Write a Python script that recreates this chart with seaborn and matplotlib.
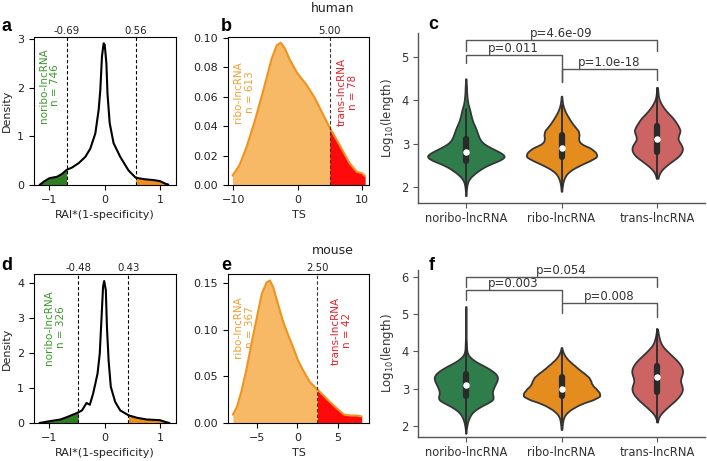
import numpy as np
import pandas as pd
import matplotlib
matplotlib.use("Agg")
import matplotlib.pyplot as plt
import matplotlib.transforms as mtrans
import seaborn as sns

# ------------------------------------------------------------------ data
groups = ["noribo-lncRNA", "ribo-lncRNA", "trans-lncRNA"]

# panel a: human RAI*(1-specificity) density
a_x = [-1.18, -1.10, -1.0, -0.86, -0.77, -0.69, -0.59, -0.47, -0.35, -0.26, -0.17, -0.11,
       -0.08, -0.05, -0.02, 0.0, 0.03, 0.05, 0.09, 0.16, 0.28, 0.43, 0.56, 0.71, 0.89, 1.0, 1.09, 1.15]
a_y = [0.0, 0.07, 0.14, 0.17, 0.23, 0.31, 0.36, 0.45, 0.58, 0.75, 1.06, 1.54,
       1.95, 2.64, 2.91, 2.88, 2.5, 1.88, 1.27, 0.86, 0.58, 0.30, 0.15, 0.12, 0.10, 0.08, 0.03, 0.01]
a_cut = [-0.69, 0.56]
a_cut_labels = ["-0.69", "0.56"]
a_n = 746

# panel b: human TS density
b_x = [-10.1, -9.0, -7.9, -6.6, -5.3, -4.0, -3.2, -2.6, -1.97, -1.2, 0.0, 1.4, 2.7, 4.0,
       5.0, 6.1, 7.1, 8.1, 9.2, 10.0, 10.5]
b_y = [0.0063, 0.0136, 0.026, 0.044, 0.0645, 0.086, 0.095, 0.0966, 0.0928, 0.085, 0.0758,
       0.068, 0.059, 0.0475, 0.039, 0.0305, 0.0226, 0.0147, 0.009, 0.008, 0.006]
b_cut = 5.00
b_cut_label = "5.00"
b_n = [613, 78]

# panel d: mouse RAI*(1-specificity) density
d_x = [-1.18, -1.0, -0.8, -0.68, -0.48, -0.41, -0.33, -0.27, -0.21, -0.17, -0.13, -0.09,
       -0.06, -0.03, -0.01, 0.02, 0.04, 0.07, 0.11, 0.19, 0.28, 0.43, 0.58, 0.76, 1.0, 1.12, 1.17]
d_y = [0.0, 0.05, 0.1, 0.17, 0.30, 0.36, 0.57, 0.52, 0.84, 1.12, 1.41, 1.98,
       2.93, 3.89, 4.05, 3.79, 2.74, 1.79, 1.03, 0.6, 0.36, 0.22, 0.15, 0.10, 0.08, 0.02, 0.0]
d_cut = [-0.48, 0.43]
d_cut_labels = ["-0.48", "0.43"]
d_n = 326

# panel e: mouse TS density
e_x = [-8.0, -7.5, -6.9, -6.25, -5.6, -5.0, -4.4, -3.8, -3.4, -3.0, -2.4, -1.8, -1.2,
       -0.55, 0.1, 0.7, 1.55, 2.5, 3.2, 4.0, 5.0, 5.8, 6.6, 7.4, 8.0]
e_y = [0.009, 0.017, 0.035, 0.06, 0.089, 0.114, 0.139, 0.151, 0.153, 0.146, 0.128, 0.11,
       0.096, 0.082, 0.067, 0.057, 0.044, 0.036, 0.030, 0.023, 0.015, 0.009, 0.008, 0.008, 0.007]
e_cut = 2.50
e_cut_label = "2.50"
e_n = [367, 42]

# panel c: human log10(length) distributions (value levels and counts)
c_noribo_levels = [1.8, 1.9, 2.0, 2.1, 2.2, 2.3, 2.4, 2.5, 2.6, 2.7, 2.8, 2.9, 3.0, 3.1,
                   3.2, 3.3, 3.4, 3.5, 3.6, 3.7, 3.8, 3.9, 4.0, 4.1, 4.2, 4.3, 4.4, 4.5]
c_noribo_counts = [1, 1, 2, 4, 9, 21, 36, 54, 84, 108, 90, 66, 45, 36,
                   32, 28, 24, 18, 15, 12, 10, 6, 4, 3, 2, 2, 1, 1]
c_ribo_levels = [1.9, 2.0, 2.1, 2.2, 2.3, 2.4, 2.5, 2.6, 2.7, 2.8, 2.9, 3.0,
                 3.1, 3.2, 3.3, 3.4, 3.5, 3.6, 3.7, 3.8, 3.9, 4.0, 4.1]
c_ribo_counts = [1, 2, 4, 8, 15, 30, 55, 84, 111, 105, 90, 57,
                 51, 54, 52, 40, 30, 22, 14, 8, 4, 2, 1]
c_trans_levels = [2.2, 2.3, 2.4, 2.5, 2.6, 2.7, 2.8, 2.9, 3.0, 3.1, 3.2,
                  3.3, 3.4, 3.5, 3.6, 3.7, 3.8, 3.9, 4.0, 4.1, 4.2, 4.3]
c_trans_counts = [2, 5, 12, 25, 40, 57, 66, 69, 63, 54, 57,
                  63, 57, 50, 42, 30, 20, 12, 6, 3, 2, 1]
c_pvals = ["p=0.011", "p=1.0e-18", "p=4.6e-09"]

# panel f: mouse log10(length) distributions
f_noribo_levels = [1.8, 1.9, 2.0, 2.1, 2.2, 2.3, 2.4, 2.5, 2.6, 2.7, 2.8, 2.9, 3.0, 3.1, 3.2,
                   3.3, 3.4, 3.5, 3.6, 3.7, 3.8, 3.9, 4.0, 4.1, 4.2, 4.3, 4.4, 4.5, 4.6, 4.7,
                   4.8, 4.9, 5.0, 5.1, 5.2]
f_noribo_counts = [1, 1, 3, 5, 9, 14, 24, 40, 62, 84, 81, 78, 82, 87, 93,
                   96, 90, 75, 56, 33, 17, 6, 3, 2, 2, 1, 1, 1, 1, 1,
                   1, 1, 1, 1, 1]
f_ribo_levels = [1.9, 2.0, 2.1, 2.2, 2.3, 2.4, 2.5, 2.6, 2.7, 2.8, 2.9, 3.0,
                 3.1, 3.2, 3.3, 3.4, 3.5, 3.6, 3.7, 3.8, 3.9, 4.0, 4.1]
f_ribo_counts = [1, 2, 3, 5, 10, 20, 36, 56, 88, 108, 104, 95,
                 84, 81, 76, 64, 50, 38, 26, 15, 8, 3, 1]
f_trans_levels = [2.1, 2.2, 2.3, 2.4, 2.5, 2.6, 2.7, 2.8, 2.9, 3.0, 3.1, 3.2, 3.3,
                  3.4, 3.5, 3.6, 3.7, 3.8, 3.9, 4.0, 4.1, 4.2, 4.3, 4.4, 4.5, 4.6]
f_trans_counts = [1, 3, 9, 20, 33, 46, 60, 70, 78, 81, 77, 72, 75,
                  80, 81, 76, 68, 57, 44, 32, 20, 12, 8, 5, 3, 1]
f_pvals = ["p=0.003", "p=0.008", "p=0.054"]

# ------------------------------------------------------------------ style
sns.set_style("ticks")
plt.rcParams["font.family"] = ["DejaVu Sans"]

GREEN_TXT = "#3a9a2a"
GREEN_FILL = "#2f7d21"
ORANGE_FILL = "#f28e1c"
TS_LINE = "#f0921e"
TS_FILL = "#f7b965"
TS_TXT = "#f0a030"
RED = "#ff0a0a"
RED_TXT = "#e8232a"
VIOLIN_COLORS = ["#2e7d4b", "#e58c1f", "#cc6464"]

W, H = 707, 461
fig = plt.figure(figsize=(W / 100, H / 100), dpi=100)


def add_ax(l, t, r, b):
    return fig.add_axes([l / W, 1 - b / H, (r - l) / W, (b - t) / H])


ax_a = add_ax(34, 37, 176, 185)
ax_b = add_ax(228, 37, 369, 185)
ax_c = add_ax(418, 33, 705, 203)
ax_d = add_ax(34, 274, 176, 423)
ax_e = add_ax(228, 274, 369, 423)
ax_f = add_ax(418, 270, 705, 437)

FS = 8


def box_style(ax):
    for s in ax.spines.values():
        s.set_visible(True)
        s.set_color("black")
        s.set_linewidth(0.8)
    ax.tick_params(labelsize=FS, length=3.5, width=0.8, colors="black", labelcolor="#222222")


def top_label(ax, x, txt):
    tr = mtrans.blended_transform_factory(ax.transData, ax.transAxes)
    ax.text(x, 1.01, txt, transform=tr, ha="center", va="bottom", fontsize=7.3, color="#222222")


def rai_panel(ax, x, y, cuts, cut_labels, n, ylim, yticks, txt_xy):
    x = np.asarray(x)
    y = np.asarray(y)
    ax.fill_between(x, y, where=x <= cuts[0], color=GREEN_FILL, lw=0)
    ax.fill_between(x, y, where=x >= cuts[1], color=ORANGE_FILL, lw=0)
    sns.lineplot(x=x, y=y, ax=ax, color="black", lw=1.5, estimator=None)
    for c, lab in zip(cuts, cut_labels):
        ax.axvline(c, color="black", ls="--", lw=0.8, dashes=(3, 2))
        top_label(ax, c, lab)
    ax.text(txt_xy[0], txt_xy[1], f"noribo-lncRNA\nn = {n}", rotation=90, color=GREEN_TXT,
            ha="center", va="center", multialignment="center", fontsize=7.5)
    ax.set_xlim(-1.28, 1.29)
    ax.set_ylim(*ylim)
    ax.set_xticks([-1, 0, 1])
    ax.set_yticks(yticks)
    ax.set_xlabel("RAI*(1-specificity)", fontsize=FS, color="#222222")
    ax.set_ylabel("Density", fontsize=FS, color="#222222")
    box_style(ax)


def ts_panel(ax, x, y, cut, cut_label, ns, xlim, ylim, xticks, yticks, ribo_xy, trans_xy):
    x = np.asarray(x)
    y = np.asarray(y)
    ax.fill_between(x, y, where=x <= cut, color=TS_FILL, lw=0)
    ax.fill_between(x, y, where=x >= cut, color=RED, lw=0)
    sns.lineplot(x=x, y=y, ax=ax, color=TS_LINE, lw=1.5, estimator=None)
    ax.axvline(cut, color="#333333", ls="--", lw=0.8, dashes=(3, 2))
    top_label(ax, cut, cut_label)
    ax.text(ribo_xy[0], ribo_xy[1], f"ribo-lncRNA\nn = {ns[0]}", rotation=90, color=TS_TXT,
            ha="center", va="center", multialignment="center", fontsize=7.5)
    ax.text(trans_xy[0], trans_xy[1], f"trans-lncRNA\nn = {ns[1]}", rotation=90, color=RED_TXT,
            ha="center", va="center", multialignment="center", fontsize=7.5)
    ax.set_xlim(*xlim)
    ax.set_ylim(*ylim)
    ax.set_xticks(xticks)
    ax.set_yticks(yticks)
    ax.set_xlabel("TS", fontsize=FS, color="#222222")
    ax.set_ylabel("")
    box_style(ax)


rai_panel(ax_a, a_x, a_y, a_cut, a_cut_labels, a_n, (0, 3.04), [0, 1, 2, 3], (-1.0, 2.05))
ts_panel(ax_b, b_x, b_y, b_cut, b_cut_label, b_n, (-10.8, 11.1), (0, 0.1005),
         [-10, 0, 10], [0, 0.02, 0.04, 0.06, 0.08, 0.10], (-8.3, 0.063), (7.7, 0.063))
rai_panel(ax_d, d_x, d_y, d_cut, d_cut_labels, d_n, (0, 4.25), [0, 1, 2, 3, 4], (-0.9, 2.73))
ts_panel(ax_e, e_x, e_y, e_cut, e_cut_label, e_n, (-8.6, 8.9), (0, 0.16),
         [-5, 0, 5], [0, 0.05, 0.10, 0.15], (-6.6, 0.103), (5.5, 0.099))


def violin_panel(ax, lv, ct, pvals, brackets, ylim, yticks):
    frames = []
    for g, levels, counts in zip(groups, lv, ct):
        frames.append(pd.DataFrame({"group": g, "val": np.repeat(levels, counts)}))
    df = pd.concat(frames, ignore_index=True)
    sns.violinplot(data=df, x="group", y="val", hue="group", order=groups, hue_order=groups,
                   palette=VIOLIN_COLORS, saturation=1, density_norm="area", common_norm=True,
                   cut=0, bw_adjust=0.6, width=0.8, linewidth=1.3, linecolor="#363636",
                   inner="box",
                   inner_kws=dict(box_width=4.5, whis_width=1.3, marker="o", color="#2a2a2a"),
                   legend=False, ax=ax)
    for (i, j, h, li, lj), p in zip(brackets, pvals):
        ax.plot([i, i, j, j], [li, h, h, lj], color="#555555", lw=1.0)
        ax.text((i + j) / 2, h, p, ha="center", va="bottom", fontsize=8.5, color="#333333")
    ax.set_xlim(-0.5, 2.5)
    ax.set_ylim(*ylim)
    ax.set_yticks(yticks)
    ax.set_xlabel("")
    ax.set_ylabel(r"Log$_{10}$(length)", fontsize=8.5, color="#333333")
    sns.despine(ax=ax)
    for s in ["left", "bottom"]:
        ax.spines[s].set_color("#555555")
        ax.spines[s].set_linewidth(1.0)
    ax.tick_params(labelsize=8.3, colors="#555555", labelcolor="#333333", length=3.5, pad=3)


# bracket layout: (i, j, height, left foot, right foot)
c_brackets = [(0, 1, 5.05, 4.86, 4.43), (1, 2, 4.72, 4.43, 4.47), (0, 2, 5.40, 5.15, 5.15)]
f_brackets = [(0, 1, 5.64, 5.37, 5.33), (1, 2, 5.29, 5.02, 4.93), (0, 2, 5.98, 5.73, 5.73)]

violin_panel(ax_c, [c_noribo_levels, c_ribo_levels, c_trans_levels],
             [c_noribo_counts, c_ribo_counts, c_trans_counts], c_pvals, c_brackets,
             (1.63, 5.56), [2, 3, 4, 5])
violin_panel(ax_f, [f_noribo_levels, f_ribo_levels, f_trans_levels],
             [f_noribo_counts, f_ribo_counts, f_trans_counts], f_pvals, f_brackets,
             (1.70, 6.18), [2, 3, 4, 5, 6])

# panel letters and species titles
letter_kw = dict(fontsize=13, fontweight="bold", family=["Liberation Sans", "DejaVu Sans"],
                 va="baseline", ha="left", color="black")
for lab, px, py in [("a", 1, 31), ("b", 221, 31), ("c", 428, 29),
                    ("d", 1, 270), ("e", 221, 270), ("f", 429, 270)]:
    fig.text(px / W, 1 - py / H, lab, **letter_kw)
fig.text(333 / W, 1 - 8 / H, "human", ha="center", va="center", fontsize=9, color="#222222")
fig.text(333 / W, 1 - 250 / H, "mouse", ha="center", va="center", fontsize=9, color="#222222")

fig.savefig("out.png", dpi=100)
